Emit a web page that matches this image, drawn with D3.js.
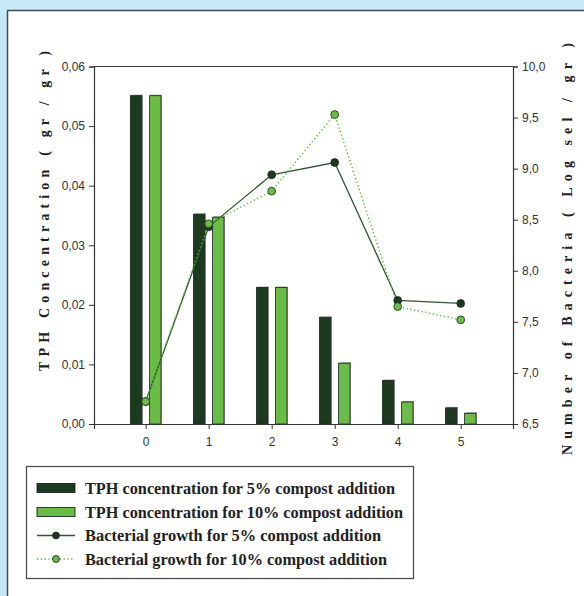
<!DOCTYPE html>
<html>
<head>
<meta charset="utf-8">
<script src="https://cdn.jsdelivr.net/npm/d3@7"></script>
<style>
  html, body { margin: 0; padding: 0; background: #c6e8f8; }
  svg { display: block; }
</style>
</head>
<body>
<svg id="chart" width="584" height="596"></svg>
<script>
// Sampling days
const days = [0, 1, 2, 3, 4, 5];
// TPH concentration (gr/gr)
const tph5 = [0.0551, 0.0352, 0.0229, 0.0179, 0.0073, 0.0027];
const tph10 = [0.0551, 0.0347, 0.0229, 0.0102, 0.0037, 0.0018];
// Bacterial growth (Log sel/gr)
const bact5 = [6.72, 8.43, 8.94, 9.06, 7.71, 7.68];
const bact10 = [6.72, 8.46, 8.78, 9.53, 7.65, 7.52];
// Axis ticks
const leftTicks = [0, 0.01, 0.02, 0.03, 0.04, 0.05, 0.06];
const rightTicks = [6.5, 7.0, 7.5, 8.0, 8.5, 9.0, 9.5, 10.0];
// Legend labels
const legendLabels = [
  "TPH concentration for 5% compost addition",
  "TPH concentration for 10% compost addition",
  "Bacterial growth for 5% compost addition",
  "Bacterial growth for 10% compost addition"
];

const C = {
  dark: "#1c3b1e",
  light: "#69bd44",
  darkLine: "#2e5632",
  lightLine: "#4dbb2c",
  axis: "#333",
  tickText: "#333"
};

const svg = d3.select("#chart");

// white panel with border
svg.append("rect").attr("x", 7.5).attr("y", 10.5).attr("width", 600).attr("height", 600)
  .attr("fill", "#fff").attr("stroke", "#4a4a4a").attr("stroke-width", 1.5);

const plot = { left: 94, right: 513, top: 66.5, bottom: 424 };

const x = d3.scaleLinear().domain([-0.82, 5.83]).range([plot.left, plot.right]);
const yL = d3.scaleLinear().domain([0, 0.06]).range([plot.bottom, plot.top]);
const yR = d3.scaleLinear().domain([6.5, 10]).range([plot.bottom, plot.top]);

const barW = 11.5, gap = 3.8;

// bars (light gray edge behind each bar)
function drawBars(vals, color, side) {
  const g = svg.append("g");
  const bx = d => side < 0 ? x(d) - gap - barW : x(d) + gap;
  g.selectAll("rect.sh").data(days).join("rect")
    .attr("x", d => bx(d) + 1).attr("y", (d, i) => yL(vals[i]) - 1)
    .attr("width", barW).attr("height", (d, i) => plot.bottom - yL(vals[i]) + 1)
    .attr("fill", "#9a9a9a");
  g.selectAll("rect.b").data(days).join("rect")
    .attr("x", d => bx(d)).attr("y", (d, i) => yL(vals[i]))
    .attr("width", barW).attr("height", (d, i) => plot.bottom - yL(vals[i]))
    .attr("fill", color).attr("stroke", "#222").attr("stroke-width", 0.8);
}
drawBars(tph5, C.dark, -1);
drawBars(tph10, C.light, 1);

// frame
svg.append("line").attr("x1", plot.left).attr("x2", plot.right).attr("y1", plot.top).attr("y2", plot.top)
  .attr("stroke", C.axis).attr("stroke-width", 1.2);

const axisFont = "'Liberation Sans', Arial, sans-serif";
const fmt2 = v => d3.format(".2f")(v).replace(".", ",");
const fmt1 = v => d3.format(".1f")(v).replace(".", ",");

function styleAxis(g) {
  g.selectAll("path.domain").attr("stroke", C.axis).attr("stroke-width", 1.2);
  g.selectAll(".tick line").attr("stroke", C.axis).attr("stroke-width", 1);
  g.selectAll(".tick text").attr("fill", C.tickText).style("font-family", axisFont).style("font-size", "12px");
}

svg.append("g").attr("transform", `translate(${plot.left},0)`)
  .call(d3.axisLeft(yL).tickValues(leftTicks).tickFormat(fmt2).tickSizeOuter(0).tickSize(5).tickPadding(4))
  .call(styleAxis);
svg.append("g").attr("transform", `translate(${plot.right},0)`)
  .call(d3.axisRight(yR).tickValues(rightTicks).tickFormat(fmt1).tickSizeOuter(0).tickSize(5).tickPadding(4))
  .call(styleAxis);
svg.append("g").attr("transform", `translate(0,${plot.bottom})`)
  .call(d3.axisBottom(x).tickValues(days).tickFormat(d3.format("d")).tickSizeOuter(0).tickSize(5).tickPadding(8))
  .call(styleAxis);

// lines
const line5 = d3.line().x((d, i) => x(days[i])).y(d => yR(d));
svg.append("path").datum(bact5).attr("d", line5).attr("fill", "none")
  .attr("stroke", C.darkLine).attr("stroke-width", 1.3);
svg.append("path").datum(bact10).attr("d", line5).attr("fill", "none")
  .attr("stroke", C.lightLine).attr("stroke-width", 1.5).attr("stroke-dasharray", "1.2,2.6");

svg.append("g").selectAll("circle").data(bact5).join("circle")
  .attr("cx", (d, i) => x(days[i])).attr("cy", d => yR(d)).attr("r", 3.9)
  .attr("fill", C.dark).attr("stroke", "#222").attr("stroke-width", 0.8);
svg.append("g").selectAll("circle").data(bact10).join("circle")
  .attr("cx", (d, i) => x(days[i])).attr("cy", d => yR(d)).attr("r", 3.9)
  .attr("fill", C.light).attr("stroke", "#2a3a2a").attr("stroke-width", 0.9);

// axis titles (spaced-out bold serif)
const titleFont = "'Liberation Serif', 'Times New Roman', serif";
svg.append("text")
  .attr("transform", `translate(49,211) rotate(-90)`)
  .attr("text-anchor", "middle")
  .style("font-family", titleFont).style("font-weight", "bold").style("font-size", "14px")
  .attr("fill", "#222")
  .attr("textLength", 320).attr("lengthAdjust", "spacing")
  .text("TPH Concentration ( gr / gr )");
svg.append("text")
  .attr("transform", `translate(572,249) rotate(-90)`)
  .attr("text-anchor", "middle")
  .style("font-family", titleFont).style("font-weight", "bold").style("font-size", "14px")
  .attr("fill", "#222")
  .attr("textLength", 412).attr("lengthAdjust", "spacing")
  .text("Number of Bacteria ( Log sel / gr )");

// legend
const lg = svg.append("g");
lg.append("rect").attr("x", 26.5).attr("y", 466.5).attr("width", 387).attr("height", 112)
  .attr("fill", "#fff").attr("stroke", "#444").attr("stroke-width", 1.2);
const rowY = [488, 512, 535.5, 559];
lg.append("rect").attr("x", 37).attr("y", rowY[0] - 4.5).attr("width", 38).attr("height", 9)
  .attr("fill", C.dark).attr("stroke", "#111").attr("stroke-width", 0.8);
lg.append("rect").attr("x", 37).attr("y", rowY[1] - 4.5).attr("width", 38).attr("height", 9)
  .attr("fill", C.light).attr("stroke", "#111").attr("stroke-width", 0.8);
lg.append("line").attr("x1", 37).attr("x2", 75).attr("y1", rowY[2]).attr("y2", rowY[2])
  .attr("stroke", C.darkLine).attr("stroke-width", 1.3);
lg.append("circle").attr("cx", 56).attr("cy", rowY[2]).attr("r", 3.4).attr("fill", C.dark).attr("stroke", "#222");
lg.append("line").attr("x1", 37).attr("x2", 75).attr("y1", rowY[3]).attr("y2", rowY[3])
  .attr("stroke", C.lightLine).attr("stroke-width", 1.5).attr("stroke-dasharray", "1.2,2.6");
lg.append("circle").attr("cx", 56).attr("cy", rowY[3]).attr("r", 3.4).attr("fill", C.light).attr("stroke", "#2a3a2a");

const widths = [310, 318, 296, 302];
legendLabels.forEach((t, i) => {
  lg.append("text").attr("x", 85).attr("y", rowY[i]).attr("dy", "0.35em")
    .style("font-family", titleFont).style("font-weight", "bold").style("font-size", "16.5px")
    .attr("fill", "#222")
    .attr("textLength", widths[i]).attr("lengthAdjust", "spacingAndGlyphs")
    .text(t);
});
</script>
</body>
</html>
